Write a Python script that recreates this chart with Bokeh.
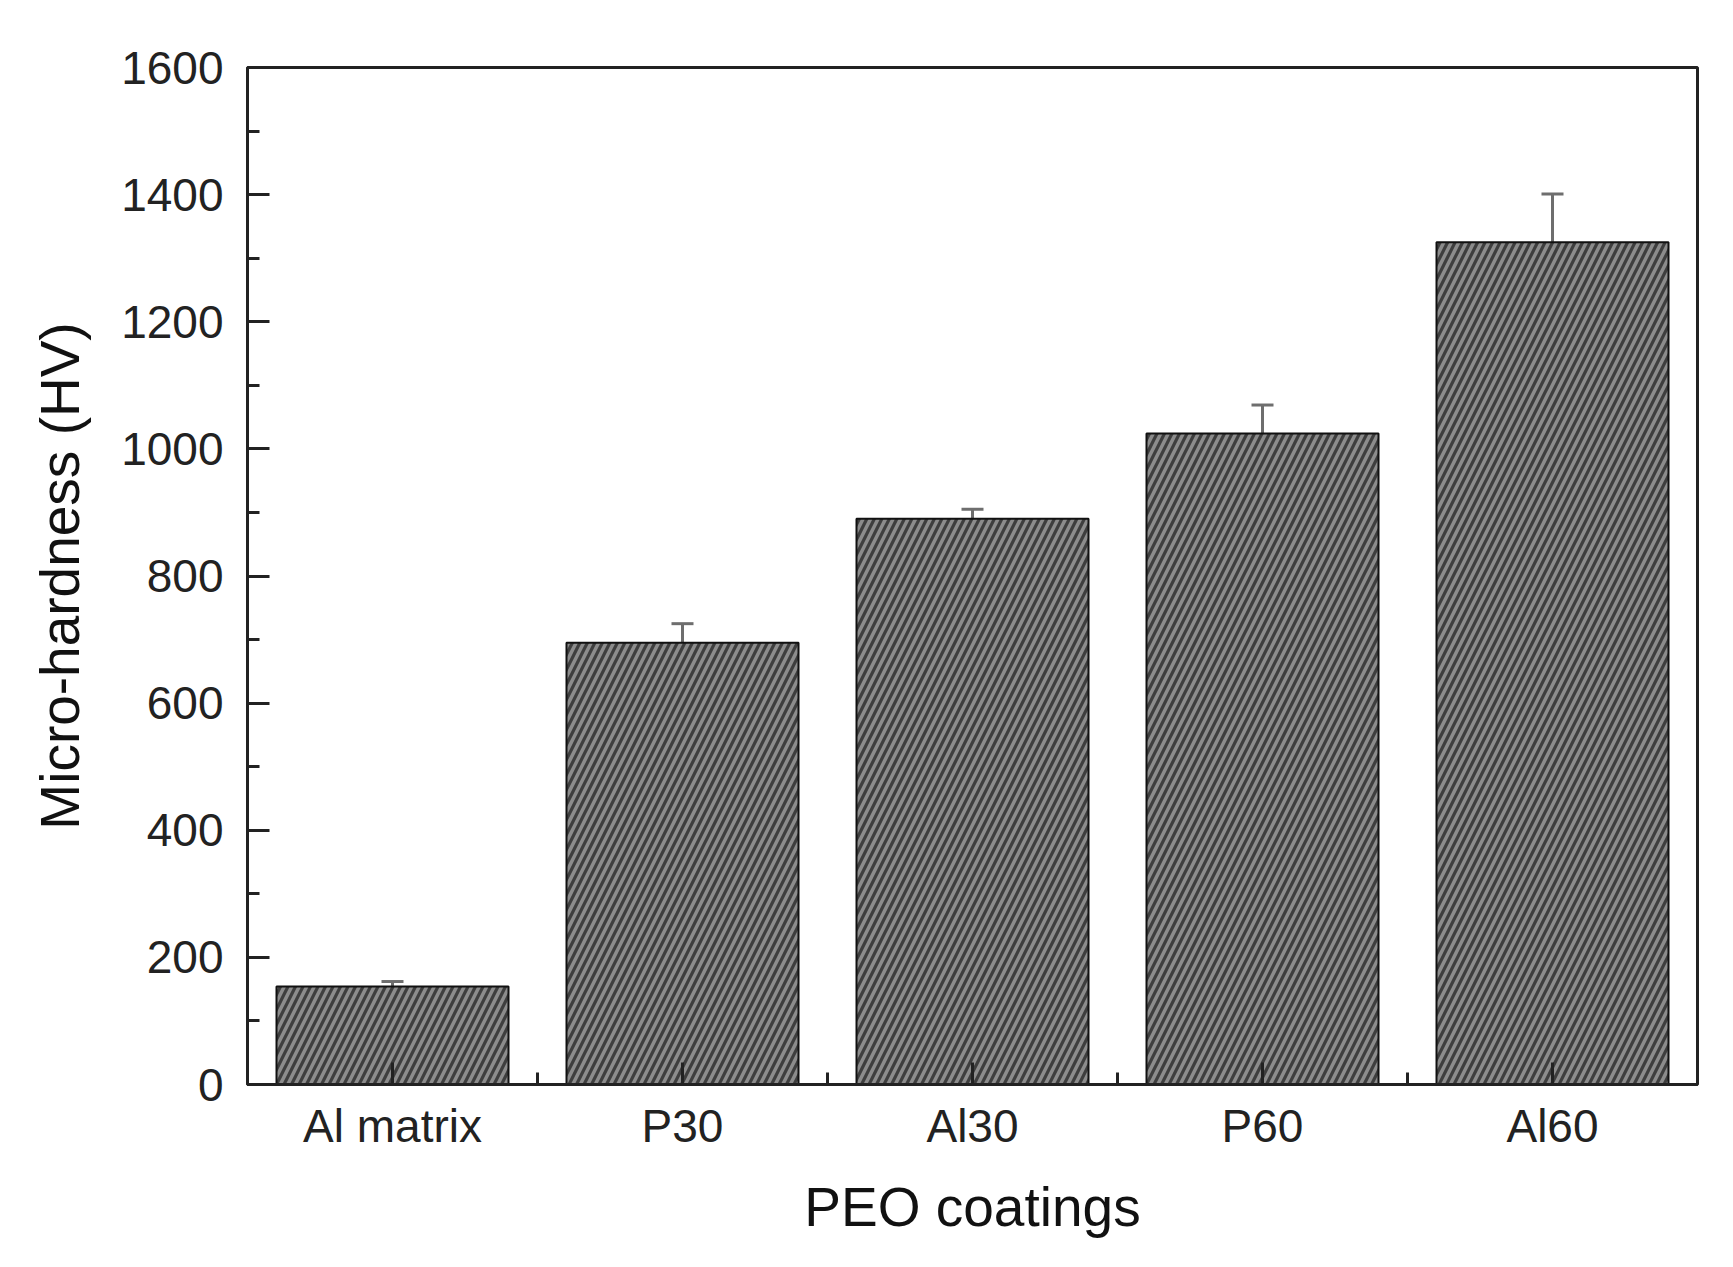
from bokeh.plotting import figure
from bokeh.models import ColumnDataSource, Range1d, FixedTicker, Whisker, TeeHead
from bokeh.embed import file_html
from bokeh.resources import INLINE

categories = ["Al matrix", "P30", "Al30", "P60", "Al60"]
hardness = [154, 695, 890, 1024, 1325]
errors = [8, 30, 15, 45, 76]
y_ticks = [0, 200, 400, 600, 800, 1000, 1200, 1400, 1600]

xs = list(range(len(categories)))
source = ColumnDataSource(dict(
    x=xs,
    hardness=hardness,
    upper=[h + e for h, e in zip(hardness, errors)],
    lower=[h - e for h, e in zip(hardness, errors)],
))

FONT = "Liberation Sans"

p = figure(
    output_backend="svg", toolbar_location=None,
    frame_width=1450, frame_height=1017,
    min_border_left=247, min_border_top=67, min_border_right=20, min_border_bottom=30,
    x_range=Range1d(-0.5, len(categories) - 0.5),
    y_range=Range1d(0, 1600),
    background_fill_color="white", border_fill_color="white",
)

p.vbar(x="x", top="hardness", bottom=0, width=0.8, source=source,
       fill_color="#3e3e3e", hatch_pattern="/", hatch_color="#8c8c8c",
       hatch_scale=15, hatch_weight=3.5,
       line_color="#111111", line_width=2)

w = Whisker(base="x", upper="upper", lower="lower", source=source,
            line_color="#6e6e6e", line_width=3,
            upper_head=TeeHead(size=22, line_color="#6e6e6e", line_width=3),
            lower_head=TeeHead(size=22, line_color="#2a2a2a", line_width=3))
p.add_layout(w)

p.xgrid.visible = False
p.ygrid.visible = False
p.outline_line_color = "#222222"
p.outline_line_width = 3
p.outline_line_alpha = 1.0

# x axis
p.xaxis.ticker = FixedTicker(ticks=xs, minor_ticks=[i + 0.5 for i in xs[:-1]])
p.xaxis.major_label_overrides = {i: c for i, c in zip(xs, categories)}
p.xaxis.axis_label = "PEO coatings"

# y axis
p.yaxis.ticker = FixedTicker(ticks=y_ticks, minor_ticks=[t + 100 for t in y_ticks[:-1]])
p.yaxis.axis_label = "Micro-hardness (HV)"

for ax in (p.xaxis[0], p.yaxis[0]):
    ax.axis_line_color = "#222222"
    ax.axis_line_width = 3
    ax.major_tick_line_color = "#222222"
    ax.major_tick_line_width = 3
    ax.minor_tick_line_color = "#222222"
    ax.minor_tick_line_width = 3
    ax.major_tick_in = 22
    ax.major_tick_out = 0
    ax.minor_tick_in = 12
    ax.minor_tick_out = 0
    ax.major_label_text_font = FONT
    ax.major_label_text_font_size = "46px"
    ax.major_label_text_color = "#222222"
    ax.axis_label_text_font = FONT
    ax.axis_label_text_font_size = "55px"
    ax.axis_label_text_font_style = "normal"
    ax.axis_label_text_color = "#111111"

p.xaxis.major_label_standoff = 15
p.xaxis.axis_label_standoff = 21
p.yaxis.major_label_standoff = 24
p.yaxis.axis_label_standoff = 27

open("out.html", "w").write(file_html(p, INLINE))
